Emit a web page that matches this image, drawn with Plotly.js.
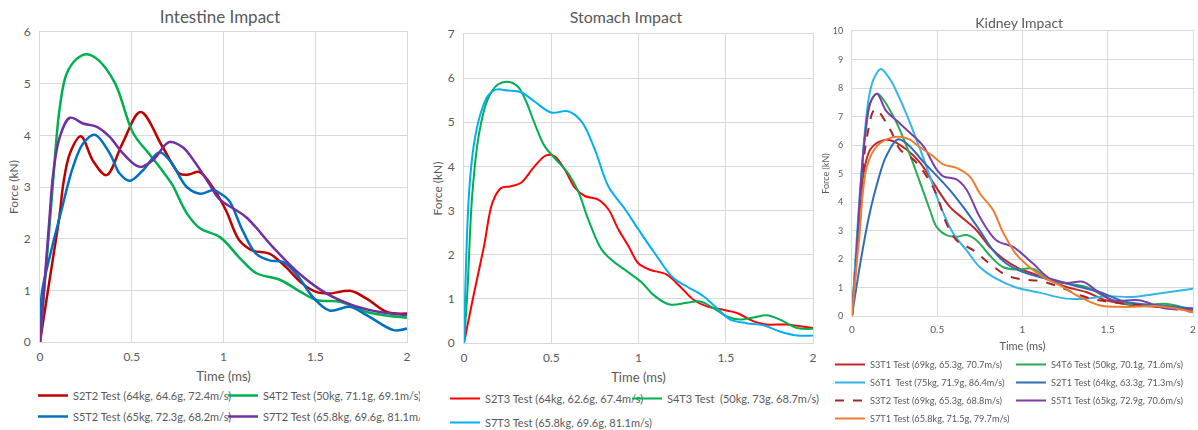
<!DOCTYPE html>
<html>
<head>
<meta charset="utf-8">
<script src="https://cdn.plot.ly/plotly-3.0.1.min.js"></script>
<style>
  html, body { margin: 0; padding: 0; background: #ffffff; }
  #wrap { position: relative; width: 1198px; height: 430px; overflow: hidden; }
  .panel { position: absolute; top: 0; height: 430px; }
  #intestine { left: 0; width: 420px; }
  #stomach { left: 420px; width: 400px; }
  #kidney { left: 820px; width: 378px; filter: blur(0.5px); }
</style>
</head>
<body>
<div id="wrap">
  <div id="intestine" class="panel"></div>
  <div id="stomach" class="panel"></div>
  <div id="kidney" class="panel"></div>
</div>
<script>
// ---------- Intestine impact (time in ms, force in kN) ----------
const intestineNames = [
  'S2T2 Test (64kg, 64.6g, 72.4m/s)',
  'S4T2 Test (50kg, 71.1g, 69.1m/s)',
  'S5T2 Test (65kg, 72.3g, 68.2m/s)',
  'S7T2 Test (65.8kg, 69.6g, 81.1m/s)'
];
const s2t2Time  = [0, 0.05, 0.107, 0.127, 0.163, 0.222, 0.29, 0.362, 0.45, 0.548, 0.669, 0.76, 0.81, 0.868, 0.94, 1.013, 1.086, 1.159, 1.25, 1.34, 1.43, 1.505, 1.58, 1.69, 1.78, 1.89, 2.0];
const s2t2Force = [0, 1.15, 2.46, 3.06, 3.65, 3.98, 3.5, 3.23, 3.85, 4.45, 3.77, 3.26, 3.24, 3.29, 3.0, 2.55, 1.97, 1.77, 1.71, 1.45, 1.13, 0.97, 0.94, 0.99, 0.84, 0.58, 0.55];
const s4t2Time  = [0, 0.063, 0.108, 0.145, 0.2, 0.257, 0.32, 0.41, 0.508, 0.6, 0.67, 0.72, 0.8, 0.872, 0.981, 1.09, 1.18, 1.31, 1.42, 1.51, 1.636, 1.78, 2.0];
const s4t2Force = [0, 2.74, 4.55, 5.19, 5.48, 5.57, 5.45, 5.0, 4.04, 3.62, 3.3, 3.05, 2.49, 2.2, 2.03, 1.62, 1.33, 1.2, 0.97, 0.81, 0.78, 0.58, 0.47];
const s5t2Time  = [0, 0.01, 0.06, 0.117, 0.18, 0.235, 0.298, 0.38, 0.434, 0.488, 0.56, 0.65, 0.71, 0.8, 0.872, 0.945, 0.98, 1.03, 1.104, 1.177, 1.25, 1.323, 1.396, 1.487, 1.578, 1.688, 1.78, 1.927, 2.0];
const s5t2Force = [0, 0.94, 1.75, 2.55, 3.39, 3.84, 4.01, 3.65, 3.26, 3.12, 3.32, 3.67, 3.5, 3.0, 2.87, 2.94, 2.88, 2.74, 2.16, 1.71, 1.58, 1.55, 1.32, 0.87, 0.61, 0.68, 0.52, 0.23, 0.26];
const s7t2Time  = [0, 0.053, 0.072, 0.108, 0.163, 0.235, 0.307, 0.38, 0.452, 0.542, 0.615, 0.705, 0.778, 0.85, 0.922, 0.976, 1.122, 1.268, 1.414, 1.56, 1.706, 1.852, 2.0];
const s7t2Force = [0, 2.46, 3.26, 3.97, 4.34, 4.23, 4.17, 3.97, 3.65, 3.39, 3.52, 3.87, 3.77, 3.45, 3.06, 2.77, 2.42, 1.84, 1.32, 0.94, 0.71, 0.58, 0.52];

// ---------- Stomach impact ----------
const stomachNames = [
  'S2T3 Test (64kg, 62.6g, 67.4m/s)',
  'S4T3 Test\u00a0\u00a0(50kg, 73g, 68.7m/s)',
  'S7T3 Test (65.8kg, 69.6g, 81.1m/s)'
];
const s2t3Time  = [0, 0.015, 0.058, 0.115, 0.163, 0.212, 0.269, 0.327, 0.404, 0.471, 0.519, 0.577, 0.635, 0.692, 0.769, 0.827, 0.885, 0.942, 1.0, 1.066, 1.162, 1.238, 1.315, 1.391, 1.487, 1.564, 1.66, 1.736, 1.85, 1.927, 2.0];
const s2t3Force = [0, 0.3, 1.14, 2.2, 3.18, 3.51, 3.55, 3.63, 4.0, 4.25, 4.23, 3.93, 3.52, 3.33, 3.25, 3.03, 2.57, 2.2, 1.8, 1.66, 1.55, 1.28, 0.98, 0.83, 0.75, 0.68, 0.49, 0.42, 0.42, 0.38, 0.34];
const s4t3Time  = [0, 0.019, 0.048, 0.087, 0.135, 0.192, 0.25, 0.308, 0.356, 0.404, 0.462, 0.519, 0.596, 0.654, 0.712, 0.788, 0.846, 0.942, 1.019, 1.085, 1.18, 1.277, 1.353, 1.43, 1.506, 1.583, 1.66, 1.736, 1.81, 1.908, 2.0];
const s4t3Force = [0, 1.14, 3.4, 4.76, 5.51, 5.85, 5.92, 5.81, 5.47, 4.98, 4.46, 4.19, 3.85, 3.44, 2.8, 2.12, 1.88, 1.6, 1.37, 1.09, 0.87, 0.91, 0.94, 0.79, 0.6, 0.53, 0.58, 0.63, 0.53, 0.34, 0.32];
const s7t3Time  = [0, 0.029, 0.058, 0.096, 0.135, 0.183, 0.25, 0.327, 0.404, 0.5, 0.596, 0.673, 0.75, 0.827, 0.923, 1.0, 1.09, 1.2, 1.277, 1.372, 1.468, 1.525, 1.62, 1.717, 1.81, 1.908, 2.0];
const s7t3Force = [0, 3.4, 4.53, 5.21, 5.59, 5.74, 5.72, 5.68, 5.47, 5.22, 5.25, 5.02, 4.38, 3.55, 3.03, 2.57, 2.05, 1.47, 1.28, 1.06, 0.72, 0.53, 0.45, 0.4, 0.26, 0.17, 0.17];

// ---------- Kidney impact ----------
const kidneyNames = [
  'S3T1 Test (69kg, 65.3g, 70.7m/s)',
  'S4T6 Test (50kg, 70.1g, 71.6m/s)',
  'S6T1\u00a0\u00a0Test (75kg, 71.9g, 86.4m/s)',
  'S2T1 Test (64kg, 63.3g, 71.3m/s)',
  'S3T2 Test (69kg, 65.3g, 68.8m/s)',
  'S5T1 Test (65kg, 72.9g, 70.6m/s)',
  'S7T1 Test (65.8kg, 71.5g, 79.7m/s)'
];
const s3t1Time  = [0, 0.03, 0.068, 0.107, 0.165, 0.224, 0.32, 0.4, 0.477, 0.574, 0.652, 0.73, 0.807, 0.885, 0.982, 1.06, 1.16, 1.257, 1.374, 1.49, 1.646, 1.8, 2.0];
const s3t1Force = [0, 2.5, 5.0, 5.84, 6.13, 6.17, 5.84, 5.37, 4.67, 3.83, 3.42, 3.01, 2.43, 2.02, 1.66, 1.49, 1.25, 1.02, 0.84, 0.55, 0.38, 0.32, 0.2];
const s4t6Time  = [0, 0.04, 0.08, 0.115, 0.15, 0.243, 0.32, 0.4, 0.457, 0.496, 0.554, 0.613, 0.671, 0.73, 0.807, 0.885, 0.963, 1.062, 1.16, 1.257, 1.374, 1.45, 1.53, 1.685, 1.84, 2.0];
const s4t6Force = [0, 3.5, 6.5, 7.6, 7.8, 7.0, 5.96, 4.67, 3.72, 3.13, 2.84, 2.78, 2.84, 2.66, 2.13, 1.72, 1.63, 1.66, 1.25, 1.14, 1.02, 0.79, 0.55, 0.38, 0.43, 0.2];
const s6t1Time  = [0, 0.05, 0.097, 0.126, 0.169, 0.224, 0.282, 0.34, 0.4, 0.457, 0.516, 0.593, 0.671, 0.749, 0.846, 0.963, 1.1, 1.257, 1.374, 1.49, 1.646, 1.8, 2.0];
const s6t1Force = [0, 4.6, 7.6, 8.3, 8.67, 8.3, 7.6, 6.78, 5.84, 4.9, 3.9, 2.9, 2.31, 1.72, 1.31, 1.0, 0.82, 0.61, 0.61, 0.69, 0.67, 0.79, 0.96];
const s2t1Time  = [0, 0.05, 0.1, 0.15, 0.2, 0.27, 0.33, 0.42, 0.5, 0.574, 0.652, 0.749, 0.827, 0.905, 1.0, 1.1, 1.16, 1.296, 1.451, 1.607, 1.8, 2.0];
const s2t1Force = [0, 1.9, 3.5, 4.7, 5.6, 6.2, 6.0, 5.4, 4.9, 4.42, 3.83, 3.01, 2.31, 1.84, 1.55, 1.37, 1.31, 1.08, 0.84, 0.49, 0.38, 0.26];
const s3t2Time  = [0, 0.03, 0.058, 0.088, 0.136, 0.224, 0.282, 0.36, 0.438, 0.5, 0.55, 0.613, 0.71, 0.807, 0.905, 1.0, 1.1, 1.218, 1.335, 1.45, 1.607, 1.8, 2.0];
const s3t2Force = [0, 2.4, 4.67, 6.3, 7.25, 6.54, 5.84, 5.49, 4.9, 4.2, 3.3, 2.66, 2.31, 1.84, 1.43, 1.28, 1.23, 1.02, 0.73, 0.55, 0.43, 0.32, 0.14];
const s5t1Time  = [0, 0.02, 0.049, 0.078, 0.107, 0.146, 0.2, 0.265, 0.34, 0.418, 0.496, 0.535, 0.613, 0.671, 0.749, 0.846, 0.944, 0.984, 1.062, 1.16, 1.257, 1.354, 1.432, 1.53, 1.685, 1.84, 2.0];
const s5t1Force = [0, 1.5, 4.44, 6.43, 7.48, 7.8, 7.2, 6.84, 6.43, 5.96, 5.14, 4.9, 4.79, 4.44, 3.48, 2.66, 2.43, 2.25, 1.84, 1.31, 1.16, 1.2, 0.9, 0.55, 0.55, 0.26, 0.26];
const s7t1Time  = [0, 0.04, 0.088, 0.146, 0.224, 0.282, 0.34, 0.38, 0.477, 0.535, 0.613, 0.69, 0.75, 0.827, 0.885, 0.96, 1.04, 1.12, 1.218, 1.335, 1.45, 1.607, 1.8, 2.0];
const s7t1Force = [0, 2.6, 5.26, 5.96, 6.25, 6.29, 6.19, 6.0, 5.6, 5.32, 5.2, 4.9, 4.3, 3.72, 2.95, 2.19, 1.72, 1.37, 1.08, 0.67, 0.38, 0.32, 0.34, 0.14];

const xTicks = [0, 0.5, 1, 1.5, 2];
const xTickText = ['0', '0.5', '1', '1.5', '2'];

const FONT = 'Lato, "Open Sans", sans-serif';
const TEXT = '#595959';
const GRID = '#d9d9d9';

function series(x, y, name, color, width, legendId, dash) {
  return {
    x: x, y: y, name: name, type: 'scatter', mode: 'lines', legend: legendId,
    line: { color: color, width: width, shape: 'spline', smoothing: 1, dash: dash || 'solid' },
    hoverinfo: 'skip'
  };
}

function xAxis(fontSize, standoff) {
  return {
    range: [0, 2], tickvals: xTicks, ticktext: xTickText,
    showgrid: true, gridcolor: GRID, gridwidth: 1,
    zeroline: false, showline: true, mirror: true, linecolor: GRID, linewidth: 1,
    ticks: '', tickfont: { family: FONT, size: fontSize, color: TEXT },
    ticklabelstandoff: 4,
    title: { text: 'Time (ms)', font: { family: FONT, size: fontSize + 1, color: TEXT }, standoff: standoff },
    fixedrange: true
  };
}

function yAxis(top, fontSize, titleGap) {
  return {
    range: [0, top], dtick: 1, tick0: 0,
    showgrid: true, gridcolor: GRID, gridwidth: 1,
    zeroline: false, showline: true, mirror: true, linecolor: GRID, linewidth: 1,
    ticks: '', tickfont: { family: FONT, size: fontSize, color: TEXT },
    ticklabelstandoff: 6,
    title: { text: 'Force (kN)', font: { family: FONT, size: fontSize, color: TEXT }, standoff: titleGap },
    fixedrange: true
  };
}

// One legend box per entry, in paper coordinates below the plot area.
// box = [plotLeft, plotWidth, plotBottom, plotHeight] in panel pixels.
function legendAt(box, left, top, size) {
  return {
    xref: 'paper', yref: 'paper',
    x: (left - box[0]) / box[1], y: -(top - box[2]) / box[3],
    xanchor: 'left', yanchor: 'top',
    font: { family: FONT, size: size, color: TEXT },
    itemwidth: 30, bgcolor: 'rgba(0,0,0,0)', borderwidth: 0
  };
}

const cfg = { staticPlot: true, displayModeBar: false };

// Intestine
const boxI = [40, 367, 342, 310];
Plotly.newPlot('intestine', [
  series(s2t2Time, s2t2Force, intestineNames[0], '#C00000', 2.5, 'legend'),
  series(s4t2Time, s4t2Force, intestineNames[1], '#00B050', 2.5, 'legend2'),
  series(s5t2Time, s5t2Force, intestineNames[2], '#0070C0', 2.5, 'legend3'),
  series(s7t2Time, s7t2Force, intestineNames[3], '#7030A0', 2.5, 'legend4')
], {
  width: 420, height: 430,
  margin: { l: 40, r: 13, t: 32, b: 88, pad: 0, autoexpand: false },
  paper_bgcolor: '#ffffff', plot_bgcolor: '#ffffff',
  title: { text: 'Intestine Impact', font: { family: FONT, size: 17, color: TEXT },
           x: 0.524, xanchor: 'center', xref: 'container', y: 0.96, yanchor: 'middle', yref: 'container' },
  xaxis: xAxis(12, 8), yaxis: yAxis(6, 12, 2),
  showlegend: true,
  legend:  legendAt(boxI, 33, 381, 11),
  legend2: legendAt(boxI, 223, 381, 11),
  legend3: legendAt(boxI, 33, 402, 11),
  legend4: legendAt(boxI, 223, 402, 11)
}, cfg);

// Stomach
const boxS = [44, 349, 343, 309];
Plotly.newPlot('stomach', [
  series(s2t3Time, s2t3Force, stomachNames[0], '#FF0000', 2, 'legend'),
  series(s4t3Time, s4t3Force, stomachNames[1], '#00B050', 2, 'legend2'),
  series(s7t3Time, s7t3Force, stomachNames[2], '#00B0F0', 2, 'legend3')
], {
  width: 400, height: 430,
  margin: { l: 44, r: 7, t: 34, b: 87, pad: 0, autoexpand: false },
  paper_bgcolor: '#ffffff', plot_bgcolor: '#ffffff',
  title: { text: 'Stomach Impact', font: { family: FONT, size: 16, color: TEXT },
           x: 0.515, xanchor: 'center', xref: 'container', y: 0.96, yanchor: 'middle', yref: 'container' },
  xaxis: xAxis(12, 8), yaxis: yAxis(7, 12, 2),
  showlegend: true,
  legend:  legendAt(boxS, 25, 384, 11),
  legend2: legendAt(boxS, 207, 384, 11),
  legend3: legendAt(boxS, 25, 408, 11)
}, cfg);

// Kidney
const boxK = [32, 341, 316, 285];
Plotly.newPlot('kidney', [
  series(s3t1Time, s3t1Force, kidneyNames[0], '#C0262B', 2, 'legend'),
  series(s4t6Time, s4t6Force, kidneyNames[1], '#2DAA57', 2, 'legend2'),
  series(s6t1Time, s6t1Force, kidneyNames[2], '#33B5E5', 2, 'legend3'),
  series(s2t1Time, s2t1Force, kidneyNames[3], '#2E6DB4', 2, 'legend4'),
  series(s3t2Time, s3t2Force, kidneyNames[4], '#A8262B', 2, 'legend5', 'dash'),
  series(s5t1Time, s5t1Force, kidneyNames[5], '#7B3FA8', 2, 'legend6'),
  series(s7t1Time, s7t1Force, kidneyNames[6], '#ED7D31', 2, 'legend7')
], {
  width: 378, height: 430,
  margin: { l: 32, r: 5, t: 31, b: 114, pad: 0, autoexpand: false },
  paper_bgcolor: '#ffffff', plot_bgcolor: '#ffffff',
  title: { text: 'Kidney Impact', font: { family: FONT, size: 14, color: TEXT },
           x: 0.527, xanchor: 'center', xref: 'container', y: 0.947, yanchor: 'middle', yref: 'container' },
  xaxis: xAxis(10, 8), yaxis: yAxis(10, 9, 4),
  showlegend: true,
  legend:  legendAt(boxK, 10, 350, 9.2),
  legend2: legendAt(boxK, 191, 350, 9.2),
  legend3: legendAt(boxK, 10, 368, 9.2),
  legend4: legendAt(boxK, 191, 368, 9.2),
  legend5: legendAt(boxK, 10, 386, 9.2),
  legend6: legendAt(boxK, 191, 386, 9.2),
  legend7: legendAt(boxK, 10, 404, 9.2)
}, cfg);
</script>
</body>
</html>
